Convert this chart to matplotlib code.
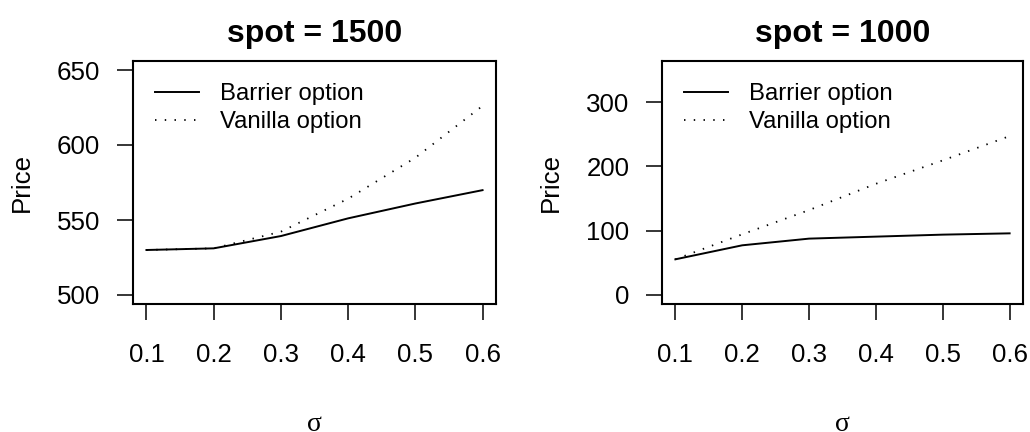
import numpy as np
import matplotlib
matplotlib.use("Agg")
import matplotlib.pyplot as plt

plt.rcParams['font.family'] = ['Liberation Sans', 'DejaVu Sans']

sigma = [0.1, 0.2, 0.3, 0.4, 0.5, 0.6]

barrier_1500 = [530.0, 531.1, 539.3, 551.1, 561.0, 569.9]
vanilla_1500 = [530.0, 531.1, 542.2, 564.2, 591.5, 626.1]

barrier_1000 = [55.5, 77.3, 87.7, 90.8, 93.9, 95.9]
vanilla_1000 = [55.5, 94.4, 132.1, 173.0, 209.4, 247.2]

titles = ["spot = 1500", "spot = 1000"]
ylims = [(500, 650), (0, 350)]
yticks = [[500, 550, 600, 650], [0, 100, 200, 300]]
legend_labels = ["Barrier option", "Vanilla option"]

W, H = 1030, 432
fig = plt.figure(figsize=(W / 100, H / 100), dpi=100)

# panel boxes in pixels: left, right, top, bottom
boxes = [(133, 496, 61, 304), (662, 1023, 61, 304)]
series = [(barrier_1500, vanilla_1500), (barrier_1000, vanilla_1000)]

for k in range(2):
    l, r, t, b = boxes[k]
    aw, ah = r - l, b - t
    ax = fig.add_axes([l / W, 1 - b / H, aw / W, ah / H])
    bar, van = series[k]
    ax.plot(sigma, bar, color='black', lw=1.4, label=legend_labels[0])
    ax.plot(sigma, van, color='black', lw=1.3, linestyle=(0, (0.8, 4.6)),
            label=legend_labels[1])

    # R style 4% padding
    x0, x1 = 0.1, 0.6
    dx = (x1 - x0) * 0.04
    ax.set_xlim(x0 - dx, x1 + dx)
    y0, y1 = ylims[k]
    dy = (y1 - y0) * 0.04
    ax.set_ylim(y0 - dy, y1 + dy)

    ax.set_xticks(sigma)
    ax.set_xticklabels([f"{s:.1f}" for s in sigma])
    ax.set_yticks(yticks[k])
    ax.tick_params(direction='out', length=11.5, width=1.1, labelsize=18.6, color='black')
    ax.tick_params(axis='x', pad=16.5)
    ax.tick_params(axis='y', pad=12)
    for sp in ax.spines.values():
        sp.set_linewidth(1.5)

    ax.set_title(titles[k], fontsize=23, fontweight='bold', pad=14)

    ax.legend(loc='upper left', bbox_to_anchor=(22 / aw, 1 - 22 / ah), frameon=False,
              fontsize=17.2, handlelength=1.85, handletextpad=0.88,
              labelspacing=0.25, borderaxespad=0, borderpad=0)

    cx = (l + r) / 2
    fig.text(cx / W, 1 / H, "σ", fontsize=20, family=['Liberation Serif', 'DejaVu Serif'],
             ha='center', va='baseline')
    fig.text((l - 111) / W, 1 - (t + b) / 2 / H, "Price", fontsize=18.6,
             rotation=90, ha='center', va='center')

fig.savefig("out.png", dpi=100)
